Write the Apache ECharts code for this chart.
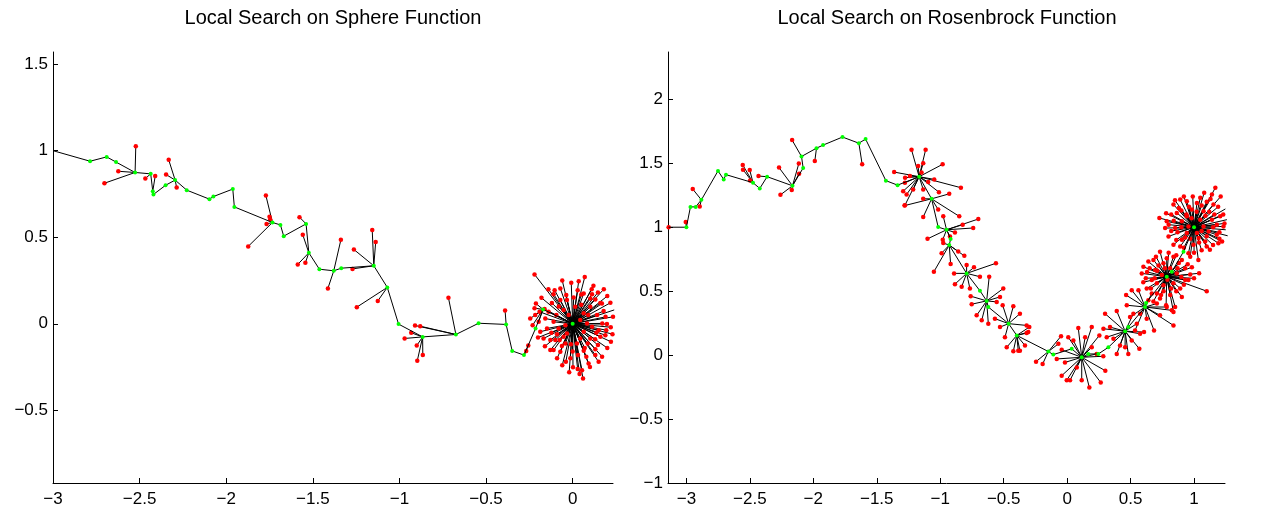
<!DOCTYPE html>
<html>
<head>
<meta charset="utf-8">
<script src="https://cdn.jsdelivr.net/npm/echarts@6/dist/echarts.min.js"></script>
<style>
html,body{margin:0;padding:0;background:#fff;}
#chart{width:1263px;height:523px;}
</style>
</head>
<body>
<div id="chart"></div>
<script>
// ---------- tick labels ----------
const sphereXTicks = [-3, -2.5, -2, -1.5, -1, -0.5, 0];
const sphereYTicks = [-0.5, 0, 0.5, 1, 1.5];
const rosenXTicks = [-3, -2.5, -2, -1.5, -1, -0.5, 0, 0.5, 1];
const rosenYTicks = [-1, -0.5, 0, 0.5, 1, 1.5, 2];

// ---------- Sphere: accepted steps (green) ----------
const sphereStepX = [-3.0, -2.786, -2.69, -2.636, -2.526, -2.436, -2.424, -2.42, -2.35, -2.295, -2.228, -2.097, -2.074, -1.962, -1.953, -1.733, -1.687, -1.668, -1.539, -1.523, -1.462, -1.379, -1.336, -1.148, -1.07, -1.005, -0.866, -0.674, -0.543, -0.384, -0.349, -0.281, -0.214, -0.171, 0.0];
const sphereStepY = [1.0, 0.939, 0.964, 0.934, 0.874, 0.866, 0.766, 0.747, 0.80, 0.83, 0.772, 0.72, 0.735, 0.778, 0.675, 0.585, 0.571, 0.506, 0.577, 0.41, 0.315, 0.306, 0.321, 0.335, 0.21, -0.002, -0.076, -0.062, 0.003, -0.004, -0.157, -0.181, -0.027, 0.083, 0.0];

// ---------- Sphere: rejected trials [x, y, index of step it was tried from] ----------
const sphereTrials = [
[-2.522,1.026,4],[-2.623,0.881,4],[-2.703,0.812,4],
[-2.467,0.839,5],[-2.41,0.853,6],
[-2.332,0.947,9],[-2.347,0.862,9],[-2.286,0.787,9],
[-1.771,0.741,15],[-1.75,0.618,15],[-1.746,0.602,15],[-1.767,0.577,15],[-1.873,0.447,15],
[-1.577,0.616,18],
[-1.558,0.514,19],[-1.587,0.343,19],[-1.543,0.352,19],
[-1.338,0.485,21],[-1.413,0.204,21],
[-1.271,0.317,23],[-1.157,0.541,23],[-1.137,0.473,23],[-1.263,0.429,23],
[-1.246,0.096,24],[-1.125,0.132,24],
[-0.91,-0.01,27],[-0.88,-0.014,27],[-0.97,-0.085,26],[-0.932,-0.052,26],[-0.9,-0.126,26],[-0.865,-0.181,26],[-0.897,-0.214,26],
[-0.717,0.15,27],
[-0.39,0.077,29],
[-0.268,-0.158,31],[-0.256,-0.126,31],
[-0.22,0.285,34],[-0.071,0.204,34],[-0.11,0.171,34],[-0.104,0.194,34],[-0.008,0.237,34],[0.035,0.246,34],[0.029,0.194,34],[0.064,0.175,34],
[0.112,0.171,34],[0.146,0.181,34],[0.131,0.14,34],[0.218,0.121,34],[0.179,0.073,34],[0.233,0.04,34],[0.198,-0.002,34],[0.194,-0.037,34],
[0.16,-0.075,34],[0.221,-0.104,34],[0.146,-0.123,34],[0.131,-0.148,34],[0.079,-0.191,34],[0.064,-0.156,34],[0.031,-0.181,34],[0.054,-0.268,34],
[0.029,-0.262,34],[0.002,-0.252,34],[0.06,-0.316,34],[-0.039,-0.219,34],[-0.013,-0.2,34],[-0.071,-0.162,34],[-0.062,-0.129,34],[-0.11,-0.152,34],
[-0.129,-0.152,34],[-0.075,-0.094,34],[-0.129,-0.094,34],[-0.123,-0.052,34],[-0.187,-0.046,34],[-0.196,0.011,33],[-0.231,-0.008,33],[-0.245,0.03,33],
[-0.216,0.05,33],[-0.191,0.069,34],[-0.212,0.117,33],[-0.162,0.085,34],[-0.139,0.069,34],[-0.094,0.05,34],[-0.052,0.079,34],[-0.033,0.137,34],
[0.006,0.152,34],[-0.071,0.137,34],[-0.023,0.05,34],[0.064,0.06,34],[0.102,0.098,34],[0.141,0.05,34],[0.112,-0.017,34],[0.15,-0.037,34],
[0.102,-0.085,34],[0.064,-0.046,34],[0.025,-0.114,34],[-0.033,-0.056,34],[-0.042,-0.008,34],[-0.081,-0.027,34],[-0.148,-0.027,34],[0.044,0.021,34],
[0.083,0.002,34],[0.015,0.098,34],[0.102,0.146,34],[0.171,0.002,34],[0.189,-0.066,34],[0.131,-0.181,34],[0.092,-0.229,34],[-0.042,-0.114,34],
[-0.1,-0.094,34],[-0.168,-0.085,34],[-0.01,-0.118,34],[0.087,-0.114,34],[0.137,-0.052,34],[0.169,0.117,34],[0.05,0.169,34],[-0.037,0.166,34],
[-0.158,0.03,34],[-0.11,0.011,34],[-0.052,-0.075,34],[0.044,-0.085,34],
[0.12,0.22,34],[0.18,0.2,34],[0.2,0.16,34],[0.24,0.08,34],[0.22,-0.02,34],[0.2,-0.14,34],[0.17,-0.19,34],[0.1,-0.25,34],
[0.04,-0.29,34],[-0.02,-0.28,34],[-0.06,-0.24,34],[-0.09,-0.2,34],[-0.16,-0.13,34],[-0.2,-0.08,34],[-0.22,0.09,33],[-0.18,0.15,34],
[-0.14,0.2,34],[-0.06,0.25,34],[0.07,0.27,34],[0.16,0.12,34],[0.09,0.05,34],[0.05,0.11,34],[-0.08,0.1,34],[-0.12,0.12,34],
[0.13,-0.09,34],[0.07,-0.14,34],[0.0,-0.16,34],[-0.09,-0.06,34],[0.19,0.04,34],[0.11,0.2,34],[0.23,-0.06,34],[0.15,-0.22,34]
];

// ---------- Rosenbrock: accepted steps (green) ----------
const rosenStepX = [-3.14, -3.0, -2.968, -2.927, -2.882, -2.751, -2.706, -2.688, -2.475, -2.422, -2.364, -2.164, -2.08, -2.093, -1.975, -1.923, -1.77, -1.641, -1.588, -1.428, -1.336, -1.166, -1.068, -1.016, -0.95, -0.918, -0.929, -0.792, -0.687, -0.634, -0.621, -0.461, -0.397, -0.148, -0.109, 0.036, 0.115, 0.167, 0.246, 0.325, 0.457, 0.482, 0.614, 0.622, 0.785, 0.825, 0.917, 1.0];
const rosenStepY = [1.0, 1.0, 1.159, 1.159, 1.214, 1.44, 1.374, 1.411, 1.348, 1.303, 1.395, 1.324, 1.463, 1.553, 1.618, 1.642, 1.705, 1.657, 1.689, 1.364, 1.329, 1.395, 1.222, 1.001, 0.98, 0.907, 0.86, 0.639, 0.503, 0.424, 0.376, 0.246, 0.154, 0.028, 0.004, 0.049, -0.017, 0.009, 0.009, 0.061, 0.187, 0.219, 0.376, 0.408, 0.613, 0.652, 0.809, 1.0];

// ---------- Rosenbrock: rejected trials [x, y, index of step it was tried from] ----------
const rosenTrials = [
[-3.14,1.0,0],[-3.005,1.04,1],
[-2.95,1.298,4],[-2.895,1.161,4],
[-2.556,1.487,8],[-2.554,1.45,8],[-2.501,1.447,8],[-2.498,1.366,8],
[-2.432,1.4,10],
[-2.27,1.466,11],[-2.259,1.253,11],[-2.17,1.29,11],[-2.112,1.419,11],[-2.114,1.498,11],
[-2.167,1.681,13],[-1.988,1.518,14],[-1.615,1.492,17],
[-1.226,1.605,21],[-1.115,1.605,21],[-1.134,1.5,21],[-1.174,1.479,21],[-0.981,1.492,21],[-0.837,1.309,21],[-1.278,1.348,21],[-1.292,1.282,21],
[-1.213,1.295,21],[-1.265,1.256,21],[-1.047,1.374,21],[-1.01,1.274,21],[-1.134,1.295,21],[-1.147,1.427,21],[-1.277,1.387,21],[-1.239,1.4,21],
[-1.095,1.353,21],[-1.363,1.431,21],[-1.278,1.172,21],
[-0.929,1.261,22],[-1.134,1.222,22],[-1.281,1.169,22],[-1.134,1.08,22],[-0.85,1.085,22],[-1.016,1.138,22],
[-0.7,1.064,24],[-0.74,0.994,24],[-1.1,0.909,24],[-0.823,1.02,24],[-0.884,0.959,24],[-0.976,1.085,24],[-0.98,0.902,24],[-0.923,0.928,24],
[-1.05,0.652,26],[-0.81,0.776,26],[-0.989,0.797,26],[-0.858,0.81,26],[-0.976,0.876,26],[-0.918,0.713,26],
[-0.561,0.718,27],[-0.891,0.639,27],[-0.884,0.555,27],[-0.734,0.686,27],[-0.792,0.705,27],[-0.687,0.613,27],[-0.766,0.521,27],[-0.831,0.534,27],
[-0.503,0.521,29],[-0.614,0.613,29],[-0.76,0.461,29],[-0.752,0.398,29],[-0.673,0.272,29],[-0.555,0.416,29],[-0.713,0.311,29],[-0.621,0.246,29],[-0.529,0.455,29],
[-0.424,0.382,31],[-0.569,0.285,31],[-0.49,0.14,31],[-0.319,0.232,31],[-0.372,0.324,31],[-0.529,0.219,31],[-0.508,0.39,31],
[-0.424,0.03,32],[-0.332,0.075,32],[-0.476,0.061,32],[-0.306,0.18,32],[-0.385,0.035,32],[-0.372,0.035,32],[-0.319,0.172,32],[-0.298,0.219,32],
[-0.245,-0.051,33],[-0.193,-0.07,33],[-0.048,0.148,33],[-0.069,0.088,33],
[0.088,0.211,36],[0.009,0.14,36],[-0.082,-0.03,36],[-0.043,-0.161,36],[-0.003,-0.196,36],[0.023,-0.196,36],[0.115,-0.196,36],[0.175,-0.253,36],
[0.265,-0.214,36],[0.301,-0.122,36],[0.285,-0.009,36],[0.194,0.219,36],[0.254,0.154,36],[0.194,0.061,36],[0.233,0.009,36],[0.076,-0.096,36],
[0.049,0.114,36],[0.142,0.14,36],[-0.043,0.041,36],[-0.017,-0.057,36],
[0.299,0.324,40],[0.391,0.345,40],[0.575,0.167,40],[0.606,0.18,40],[0.569,0.049,40],[0.482,0.009,40],[0.391,0.009,40],[0.312,0.14,40],
[0.338,0.219,40],[0.522,0.324,40],[0.549,0.246,40],[0.509,0.114,40],[0.417,0.075,40],[0.286,0.206,40],[0.365,0.127,40],[0.457,0.061,40],
[0.465,0.469,42],[0.509,0.508,42],[0.838,0.232,42],[0.685,0.193,42],[0.535,0.193,42],[0.496,0.298,42],[0.627,0.285,42],[0.732,0.311,42],
[0.785,0.376,42],[0.562,0.508,42],[0.825,0.35,42],[0.667,0.482,42],[0.575,0.324,42],[0.47,0.39,42],[0.707,0.403,42],[0.64,0.429,42],
[1.1,0.5,44],[0.983,0.687,44],[0.904,0.455,44],[0.851,0.376,44],[0.78,0.39,44],[0.707,0.482,44],[0.627,0.521,44],[0.588,0.639,44],
[0.601,0.691,44],[0.64,0.731,44],[0.732,0.809,44],[0.785,0.757,44],[0.838,0.77,44],[0.93,0.679,44],[0.93,0.587,44],[0.891,0.521,44],
[0.812,0.469,44],[0.732,0.443,44],[0.667,0.587,44],[0.694,0.665,44],[0.759,0.718,44],[0.864,0.639,44],[0.838,0.561,44],[0.759,0.547,44],
[0.707,0.561,44],[0.904,0.744,44],[0.812,0.679,44],[0.746,0.626,44],[0.838,0.337,44],[0.68,0.744,44],[0.956,0.587,44],[0.62,0.6,44],
[0.66,0.52,44],[0.88,0.72,44],[0.97,0.63,44],[0.72,0.7,44],[0.86,0.5,44],[0.8,0.8,44],[0.65,0.68,44],[0.9,0.61,44],[0.76,0.5,44],
[0.6,0.57,44],[0.63,0.65,44],[0.7,0.77,44],[0.77,0.68,44],[0.87,0.68,44],[0.95,0.71,44],[1.0,0.6,44],[0.92,0.55,44],
[0.82,0.52,44],[0.74,0.47,44],[0.69,0.6,44],[0.86,0.78,44],[0.68,0.42,44],[1.04,0.64,44],[0.79,0.59,44],[0.71,0.66,44],
[1.168,1.309,47],[1.247,1.143,47],[1.265,0.933,47],[1.221,0.888,47],[1.125,0.823,47],[1.034,0.744,47],[0.956,0.797,47],[0.891,0.849,47],
[0.799,0.928,47],[0.785,1.046,47],[0.727,1.072,47],[0.838,1.177,47],[0.943,1.203,47],[1.049,1.23,47],[1.153,1.177,47],[1.206,1.085,47],
[1.232,1.006,47],[1.179,0.941,47],[1.088,0.888,47],[0.996,0.862,47],[0.904,0.902,47],[0.851,0.993,47],[0.864,1.112,47],[0.983,1.138,47],
[1.075,1.124,47],[1.141,1.059,47],[1.115,0.967,47],[1.036,0.915,47],[0.943,0.954,47],[0.904,1.046,47],[0.943,1.085,47],[1.049,1.059,47],
[1.075,1.006,47],[1.023,0.954,47],[0.956,1.006,47],[1.192,0.875,47],[0.838,0.862,47],[0.772,0.993,47],[1.141,1.256,47],[1.023,1.19,47],
[1.259,1.059,47],[0.891,1.216,47],[1.1,0.849,47],[1.1,1.2,47],[0.82,1.1,47],[1.18,1.02,47],[0.93,0.92,47],[1.06,0.97,47],[0.98,1.07,47],
[1.12,1.12,47],[0.87,0.96,47],[1.0,0.8,47],[1.2,0.96,47],[0.96,1.16,47],
[0.8,1.02,47],[0.84,1.05,47],[0.88,1.15,47],[0.92,1.24,47],[0.99,1.24,47],[1.08,1.27,47],[1.13,1.22,47],[1.19,1.16,47],
[1.23,1.1,47],[1.24,1.03,47],[1.25,0.98,47],[1.2,0.91,47],[1.15,0.86,47],[1.06,0.82,47],[0.97,0.77,47],[0.92,0.84,47],
[0.86,0.9,47],[0.82,0.97,47],[0.9,1.0,47],[0.94,1.1,47],[1.02,1.12,47],[1.09,1.09,47],[1.15,1.0,47],[1.1,0.93,47],
[1.04,0.88,47],[0.97,0.91,47],[1.16,1.1,47],[1.06,1.17,47],[0.9,1.13,47],[0.85,1.21,47],[0.78,1.11,47],[1.21,1.24,47]
];

// ---------- build ----------
function minusFmt(v){ return String(v).replace('-', '\u2212'); }
const FONT = 'Liberation Sans, Arial, Helvetica, sans-serif';

function mkX(gi, min, max, ticks){
  return {
    type:'value', gridIndex:gi, min:min, max:max,
    axisLine:{show:true, onZero:false, lineStyle:{color:'#000', width:1}},
    axisTick:{show:true, inside:true, length:5, customValues:ticks, lineStyle:{color:'#000', width:1}},
    axisLabel:{show:true, customValues:ticks, formatter:minusFmt, color:'#000', fontSize:17, fontFamily:FONT, margin:8},
    splitLine:{show:false}
  };
}
function mkY(gi, min, max, ticks){
  return {
    type:'value', gridIndex:gi, min:min, max:max,
    axisLine:{show:true, onZero:false, lineStyle:{color:'#000', width:1}},
    axisTick:{show:true, inside:true, length:5, customValues:ticks, lineStyle:{color:'#000', width:1}},
    axisLabel:{show:true, customValues:ticks, formatter:minusFmt, color:'#000', fontSize:17, fontFamily:FONT, margin:5},
    splitLine:{show:false}
  };
}

function seriesFor(idx, sx, sy, trials){
  const segData = trials.map(t => [sx[t[2]], sy[t[2]], t[0], t[1]]);
  const redData = trials.map(t => [t[0], t[1]]);
  const pathData = sx.map((x,i) => [x, sy[i]]);
  return [
    {
      type:'custom', xAxisIndex:idx, yAxisIndex:idx, silent:true, z:2,
      data:segData, encode:{x:[0,2], y:[1,3]},
      renderItem:function(params, api){
        const p1 = api.coord([api.value(0), api.value(1)]);
        const p2 = api.coord([api.value(2), api.value(3)]);
        return {type:'line', shape:{x1:p1[0], y1:p1[1], x2:p2[0], y2:p2[1]}, style:{stroke:'#000', lineWidth:1}};
      }
    },
    {
      type:'scatter', xAxisIndex:idx, yAxisIndex:idx, silent:true, z:3,
      data:redData, symbol:'circle', symbolSize:4.5,
      itemStyle:{color:'#ff0000', opacity:1}
    },
    {
      type:'line', xAxisIndex:idx, yAxisIndex:idx, silent:true, z:4,
      data:pathData, showSymbol:false, symbol:'none', clip:false,
      lineStyle:{color:'#000', width:1}
    },
    {
      type:'scatter', xAxisIndex:idx, yAxisIndex:idx, silent:true, z:5,
      data:pathData.slice(1), symbol:'circle', symbolSize:4,
      itemStyle:{color:'#00ff00', opacity:1}
    }
  ];
}

const chart = echarts.init(document.getElementById('chart'), null, {renderer:'canvas'});
chart.setOption({
  animation:false,
  backgroundColor:'#fff',
  grid:[
    {left:53, top:52, width:560, height:431, containLabel:false},
    {left:668, top:52, width:557, height:431, containLabel:false}
  ],
  xAxis:[ mkX(0, -3, 0.233, sphereXTicks), mkX(1, -3.145, 1.244, rosenXTicks) ],
  yAxis:[ mkY(0, -0.92, 1.57, sphereYTicks), mkY(1, -1, 2.37, rosenYTicks) ],
  graphic:[
    {type:'text', x:333, y:18, style:{text:'Local Search on Sphere Function', textAlign:'center', textVerticalAlign:'middle', fontSize:20, fontFamily:FONT, fill:'#000'}},
    {type:'text', x:947, y:18, style:{text:'Local Search on Rosenbrock Function', textAlign:'center', textVerticalAlign:'middle', fontSize:20, fontFamily:FONT, fill:'#000'}}
  ],
  series:[].concat(
    seriesFor(0, sphereStepX, sphereStepY, sphereTrials),
    seriesFor(1, rosenStepX, rosenStepY, rosenTrials)
  )
});
</script>
</body>
</html>
